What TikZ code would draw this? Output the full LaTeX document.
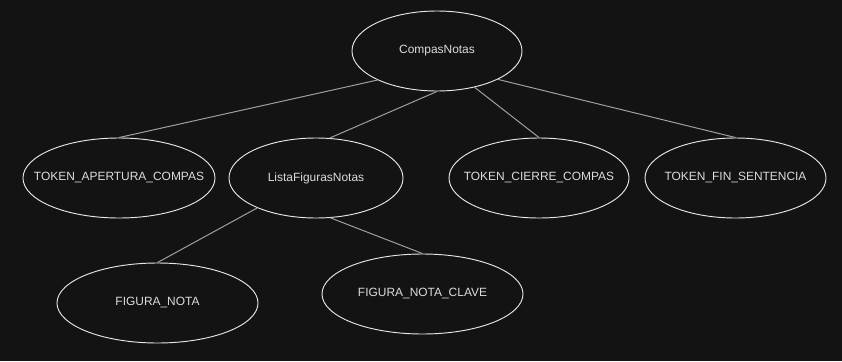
\documentclass[tikz,border=0pt]{standalone}
\usepackage{fontspec}
\setmainfont{Liberation Sans}
\usetikzlibrary{shapes.geometric}

\definecolor{fondo}{HTML}{131313}
\definecolor{trazo}{HTML}{E6E6E6}
\definecolor{letra}{HTML}{DCDCDC}
\definecolor{linea}{HTML}{A0A0A0}

% el texto no debe agrandar la elipse
\newcommand{\etq}[1]{\makebox[0pt]{#1}}

\begin{document}
\begin{tikzpicture}[x=0.03cm,y=-0.03cm,
  elipse/.style={ellipse,draw=trazo,fill=fondo,text=letra,inner sep=0pt,
    line width=0.8pt,minimum height=2.4cm,font=\fontsize{10.2}{12}\selectfont},
  arista/.style={draw=linea,line width=0.85pt}
]

% fondo oscuro
\fill[fondo] (0,0) rectangle (842,361);
\useasboundingbox (0,0) rectangle (842,361);

% nodos del arbol
\node[elipse,minimum width=5.1cm]  (compas)   at (437,51)    {\etq{CompasNotas}};
\node[elipse,minimum width=5.76cm] (apertura) at (119,178)   {\etq{TOKEN\_APERTURA\_COMPAS}};
\node[elipse,minimum width=5.22cm] (lista)    at (316,178)   {\etq{ListaFigurasNotas}};
\node[elipse,minimum width=5.4cm]  (cierre)   at (539,178)   {\etq{TOKEN\_CIERRE\_COMPAS}};
\node[elipse,minimum width=5.43cm] (fin)      at (735.5,178) {\etq{TOKEN\_FIN\_SENTENCIA}};
\node[elipse,minimum width=6.03cm] (figura)   at (157.5,303) {\etq{FIGURA\_NOTA}};
\node[elipse,minimum width=6.03cm] (clave)    at (422.5,294) {\etq{FIGURA\_NOTA\_CLAVE}};

% aristas
\draw[arista] (compas.206) -- (apertura.north);
\draw[arista] (compas.south) -- (lista.71);
\draw[arista] (compas.316) -- (cierre.north);
\draw[arista] (compas.335) -- (fin.north);
\draw[arista] (lista.207) -- (figura.north);
\draw[arista] (lista.290) -- (clave.north);
\end{tikzpicture}
\end{document}
